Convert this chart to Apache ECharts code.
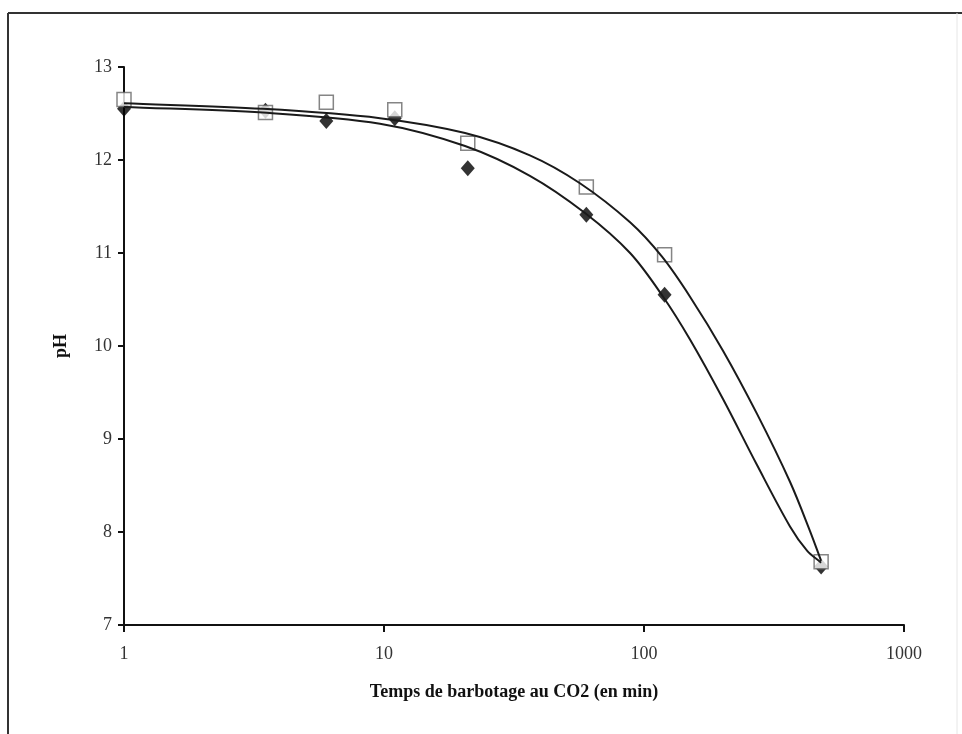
<!DOCTYPE html>
<html>
<head>
<meta charset="utf-8">
<script src="https://cdn.jsdelivr.net/npm/echarts@6/dist/echarts.min.js"></script>
<style>
  html, body { margin: 0; padding: 0; background: #ffffff; }
  #chart { width: 962px; height: 734px; }
</style>
</head>
<body>
<div id="chart"></div>
<script>
// Bubbling time (min) and measured pH, two runs
const timesOpen = [1, 3.5, 6, 11, 21, 60, 120, 480];
const pHOpen = [12.65, 12.51, 12.62, 12.54, 12.18, 11.71, 10.98, 7.68];
const timesFilled = [1, 3.5, 6, 11, 21, 60, 120, 480];
const pHFilled = [12.55, 12.53, 12.42, 12.45, 11.91, 11.41, 10.55, 7.63];

// Trend curves, sampled along each fitted line
const trendOpenX = [1, 3.42, 9.65, 20.5, 36.4, 56.7, 88.4, 117.3, 150.3, 201.3, 272.1, 364.3, 435, 480];
const trendOpenY = [12.61, 12.55, 12.45, 12.29, 12.05, 11.75, 11.33, 10.96, 10.53, 9.95, 9.27, 8.54, 8.01, 7.69];
const trendFilledX = [1, 3.42, 9.65, 20.5, 36.4, 59.3, 88.4, 118.4, 150.3, 201.3, 272.1, 364.3, 423.6, 480];
const trendFilledY = [12.57, 12.51, 12.39, 12.15, 11.83, 11.43, 11.0, 10.53, 10.07, 9.43, 8.72, 8.06, 7.80, 7.67];

// Axis ticks
const yTicks = [7, 8, 9, 10, 11, 12, 13];
const xTicks = [1, 10, 100, 1000];

const pairs = (xs, ys) => xs.map((x, i) => [x, ys[i]]);

// Smooth cubic path through screen points, tangents by chord length
function splinePath(pts) {
  const n = pts.length;
  const dist = (a, b) => Math.hypot(b[0] - a[0], b[1] - a[1]);
  const tan = pts.map((p, i) => {
    const a = pts[Math.max(i - 1, 0)];
    const b = pts[Math.min(i + 1, n - 1)];
    const d = dist(a, b) || 1;
    return [(b[0] - a[0]) / d, (b[1] - a[1]) / d];
  });
  let s = 'M' + pts[0][0] + ' ' + pts[0][1];
  for (let i = 0; i < n - 1; i++) {
    const p1 = pts[i], p2 = pts[i + 1];
    const d = dist(p1, p2) / 3;
    const c1 = [p1[0] + tan[i][0] * d, p1[1] + tan[i][1] * d];
    const c2 = [p2[0] - tan[i + 1][0] * d, p2[1] - tan[i + 1][1] * d];
    s += ' C' + c1[0] + ' ' + c1[1] + ' ' + c2[0] + ' ' + c2[1] + ' ' + p2[0] + ' ' + p2[1];
  }
  return s;
}

function trendSeries(name, xs, ys) {
  const data = pairs(xs, ys);
  return {
    name: name,
    type: 'custom',
    z: 4,
    silent: true,
    data: data,
    encode: { x: 0, y: 1 },
    renderItem: function (params, api) {
      if (params.dataIndex !== 0) return null;
      const pts = data.map(function (d) { return api.coord(d); });
      return {
        type: 'path',
        shape: { pathData: splinePath(pts) },
        style: { fill: 'none', stroke: '#1a1a1a', lineWidth: 2 }
      };
    }
  };
}

const chart = echarts.init(document.getElementById('chart'));
const serif = '"Liberation Serif", "DejaVu Serif", serif';

chart.setOption({
  backgroundColor: '#ffffff',
  animation: false,
  grid: { left: 124, right: 58, top: 67, bottom: 109 },
  xAxis: {
    type: 'log',
    logBase: 10,
    min: xTicks[0],
    max: xTicks[xTicks.length - 1],
    name: 'Temps de barbotage au CO2 (en min)',
    nameLocation: 'middle',
    nameGap: 58,
    nameTextStyle: { fontFamily: serif, fontSize: 18, fontWeight: 'bold', color: '#111' },
    axisLine: { lineStyle: { color: '#111', width: 2 } },
    axisTick: { show: true, length: 7, lineStyle: { color: '#111', width: 2 } },
    minorTick: { show: false },
    splitLine: { show: false },
    axisLabel: {
      fontFamily: serif, fontSize: 18, color: '#333', margin: 20,
      formatter: (v) => String(Math.round(v))
    }
  },
  yAxis: {
    type: 'value',
    min: yTicks[0],
    max: yTicks[yTicks.length - 1],
    interval: 1,
    name: 'pH',
    nameLocation: 'middle',
    nameGap: 54,
    nameRotate: 90,
    nameTextStyle: { fontFamily: serif, fontSize: 18, fontWeight: 'bold', color: '#111' },
    axisLine: { show: true, lineStyle: { color: '#111', width: 2 } },
    axisTick: { show: true, length: 6, lineStyle: { color: '#111', width: 2 } },
    splitLine: { show: false },
    axisLabel: { fontFamily: serif, fontSize: 18, color: '#333', margin: 12 }
  },
  graphic: [
    { type: 'line', shape: { x1: 8, y1: 13, x2: 962, y2: 13 }, style: { stroke: '#333', lineWidth: 2 } },
    { type: 'line', shape: { x1: 8, y1: 13, x2: 8, y2: 734 }, style: { stroke: '#333', lineWidth: 2 } },
    { type: 'line', shape: { x1: 957, y1: 13, x2: 957, y2: 734 }, style: { stroke: '#e6e6e6', lineWidth: 1 } }
  ],
  series: [
    {
      name: 'diamonds',
      type: 'scatter',
      symbol: 'diamond',
      symbolSize: [14, 16],
      itemStyle: { color: '#000' },
      z: 2,
      data: pairs(timesFilled, pHFilled)
    },
    {
      name: 'squares',
      type: 'scatter',
      symbol: 'rect',
      symbolSize: 14,
      itemStyle: { color: '#fff', borderColor: '#666', borderWidth: 1.5 },
      z: 3,
      data: pairs(timesOpen, pHOpen)
    },
    trendSeries('trend squares', trendOpenX, trendOpenY),
    trendSeries('trend diamonds', trendFilledX, trendFilledY)
  ]
});
</script>
</body>
</html>
